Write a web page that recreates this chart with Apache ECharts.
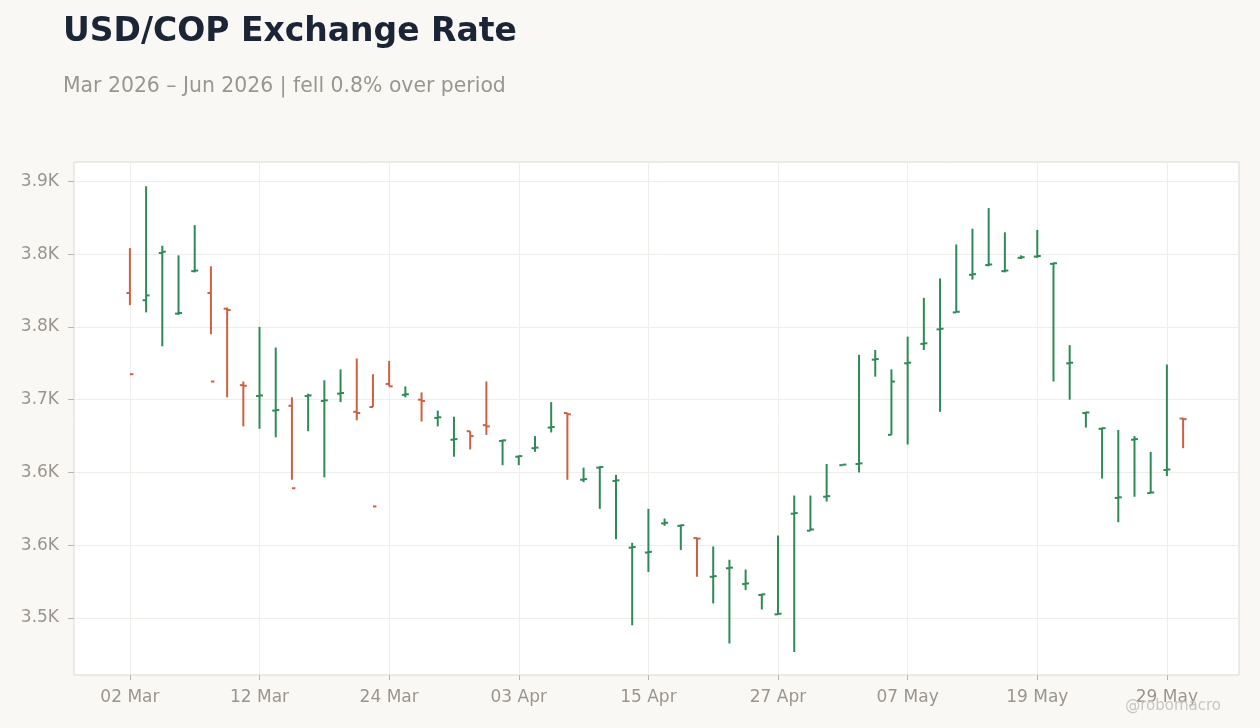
<!DOCTYPE html>
<html>
    <head>
        <title>USD/COP Exchange Rate</title>
        <meta charset="UTF-8">
        <script src="https://cdn.jsdelivr.net/npm/echarts@6/dist/echarts.min.js"></script>
        <style>
            html, body { margin: 0; padding: 0; background: #f9f8f5; }
            #main { width: 1260px; height: 728px; }
        </style>
    </head>
    <body>
    <div id="main"></div>
    <script type="text/javascript">
        // trading days (weekdays), Mar 2026 - Jun 2026
        var dates = [
            '2026-03-02','2026-03-03','2026-03-04','2026-03-05','2026-03-06','2026-03-09','2026-03-10','2026-03-11',
            '2026-03-12','2026-03-13','2026-03-16','2026-03-17','2026-03-18','2026-03-19','2026-03-20','2026-03-23',
            '2026-03-24','2026-03-25','2026-03-26','2026-03-27','2026-03-30','2026-03-31','2026-04-01','2026-04-02',
            '2026-04-03','2026-04-06','2026-04-07','2026-04-08','2026-04-09','2026-04-10','2026-04-13','2026-04-14',
            '2026-04-15','2026-04-16','2026-04-17','2026-04-20','2026-04-21','2026-04-22','2026-04-23','2026-04-24',
            '2026-04-27','2026-04-28','2026-04-29','2026-04-30','2026-05-01','2026-05-04','2026-05-05','2026-05-06',
            '2026-05-07','2026-05-08','2026-05-11','2026-05-12','2026-05-13','2026-05-14','2026-05-15','2026-05-18',
            '2026-05-19','2026-05-20','2026-05-21','2026-05-22','2026-05-25','2026-05-26','2026-05-27','2026-05-28',
            '2026-05-29','2026-06-01'
        ];

        var opens = [
            3788, 3782, 3821, 3771, 3806, 3788, 3775, 3712, 3703, 3691, 3695, 3703, 3699, 3705, 3690, 3694,
            3713, 3704, 3700, 3685, 3667, 3674, 3679, 3666, 3653, 3660, 3677, 3689, 3634, 3644, 3633, 3578,
            3574, 3598, 3596, 3586, 3554, 3561, 3548, 3539, 3523, 3606, 3592, 3620, 3646, 3647, 3733, 3671,
            3730, 3746, 3758, 3772, 3803, 3811, 3806, 3817, 3818, 3812, 3730, 3689, 3676, 3619, 3667, 3623,
            3642, 3684.5
        ];
        var highs = [
            3825, 3876, 3827, 3819, 3844, 3810, 3776, 3715, 3760, 3743, 3702, 3705, 3716, 3725, 3734, 3721,
            3732, 3711, 3706, 3691, 3686, 3674, 3715, 3667, 3654, 3670, 3698, 3689, 3644, 3645, 3638, 3582,
            3610, 3602, 3597, 3586, 3579, 3568, 3560, 3540, 3588, 3621, 3621, 3647, 3646.5, 3737, 3741, 3725,
            3752, 3784, 3800, 3828, 3841, 3858, 3838, 3819, 3840, 3813, 3745, 3690, 3677, 3675, 3670, 3657,
            3729, 3685
        ];
        var lows = [
            3778, 3772, 3744, 3770, 3805, 3754, 3702, 3678, 3676, 3669, 3634, 3674, 3636, 3698, 3683, 3694,
            3711, 3702, 3682, 3678, 3653, 3659, 3671, 3646, 3646, 3657, 3673, 3634, 3632, 3610, 3585, 3514,
            3558, 3596, 3576, 3554, 3532, 3499, 3543, 3527, 3523, 3492, 3592, 3616, 3646, 3640, 3719, 3671,
            3663, 3741, 3690, 3772, 3799, 3810, 3805, 3816, 3817, 3715, 3700, 3677, 3635, 3599, 3620, 3623,
            3637, 3660
        ];
        var closes = [
            3721, 3786, 3822, 3771.5, 3806.5, 3715, 3774, 3711.5, 3703.5, 3691.5, 3627, 3703.5, 3699.5, 3705.5, 3689, 3612,
            3711, 3704.5, 3699, 3685.5, 3667.5, 3670, 3678, 3666.5, 3653.5, 3660.5, 3677.5, 3688, 3634.5, 3644.5, 3633.5, 3578.5,
            3574.5, 3598.5, 3596.5, 3585.5, 3554.5, 3561.5, 3548.5, 3539.5, 3523.5, 3606.5, 3593, 3620.5, 3646.5, 3647.5, 3733.5, 3715,
            3730.5, 3746.5, 3758.5, 3772.5, 3803.5, 3811.5, 3806.5, 3817.5, 3818.5, 3812.5, 3730.5, 3689.5, 3676.5, 3619.5, 3667.5, 3623.5,
            3642.5, 3684
        ];

        // axis ticks
        var xTickIndex = [0, 8, 16, 24, 32, 40, 48, 56, 64];
        var yTicks = [3520, 3580, 3640, 3700, 3760, 3820, 3880];

        var upColor = '#2e8b57';
        var downColor = '#cc6143';
        var months = ['Jan','Feb','Mar','Apr','May','Jun','Jul','Aug','Sep','Oct','Nov','Dec'];

        function dayLabel(iso) {
            var p = iso.split('-');
            return p[2] + ' ' + months[parseInt(p[1], 10) - 1];
        }

        var seriesData = [];
        for (var i = 0; i < dates.length; i++) {
            seriesData.push([i, opens[i], highs[i], lows[i], closes[i]]);
        }

        // OHLC bar: high-low line, open tick left, close tick right
        function renderOhlc(params, api) {
            var idx = api.value(0);
            var o = api.value(1), c = api.value(4);
            var pO = api.coord([idx, o]);
            var pH = api.coord([idx, api.value(2)]);
            var pL = api.coord([idx, api.value(3)]);
            var pC = api.coord([idx, c]);
            var style = { stroke: c >= o ? upColor : downColor, lineWidth: 2 };
            return {
                type: 'group',
                children: [
                    { type: 'line', shape: { x1: pH[0], y1: pH[1], x2: pL[0], y2: pL[1] }, style: style },
                    { type: 'line', shape: { x1: pO[0] - 3.5, y1: pO[1], x2: pO[0], y2: pO[1] }, style: style },
                    { type: 'line', shape: { x1: pC[0], y1: pC[1], x2: pC[0] + 3.5, y2: pC[1] }, style: style }
                ]
            };
        }

        var myChart = echarts.init(document.getElementById('main'));

        var option = {
            backgroundColor: '#f9f8f5',
            animation: false,
            textStyle: { fontFamily: 'DejaVu Sans' },
            title: [
                {
                    text: 'USD/COP Exchange Rate',
                    left: 58,
                    top: 11,
                    textStyle: { fontFamily: 'DejaVu Sans', fontSize: 33, fontWeight: 'bold', color: '#1b2535' }
                },
                {
                    text: 'Mar 2026 \u2013 Jun 2026 | fell 0.8% over period',
                    left: 58,
                    top: 72,
                    textStyle: { fontFamily: 'DejaVu Sans', fontSize: 20.4, fontWeight: 'normal', color: '#9a9792' }
                },
                {
                    text: '@robomacro',
                    right: 34,
                    top: 694,
                    textStyle: { fontFamily: 'DejaVu Sans', fontSize: 15, fontWeight: 'normal', color: '#c9c6c1' }
                }
            ],
            grid: {
                left: 74,
                right: 21,
                top: 162,
                bottom: 53,
                show: true,
                backgroundColor: '#ffffff',
                borderColor: '#dcd8d1',
                borderWidth: 1
            },
            xAxis: {
                type: 'value',
                min: -3.45,
                max: 68.45,
                axisLine: { show: false, onZero: false },
                axisTick: { show: true, length: 5, customValues: xTickIndex, lineStyle: { color: '#b9b4ad' } },
                axisLabel: {
                    customValues: xTickIndex,
                    margin: 14,
                    fontSize: 17,
                    color: '#9a9590',
                    formatter: function (v) { return dayLabel(dates[Math.round(v)]); }
                },
                splitLine: { show: true, lineStyle: { color: '#f0eeeb', width: 1 } }
            },
            yAxis: {
                type: 'value',
                min: 3473,
                max: 3896,
                axisLine: { show: false, onZero: false },
                axisTick: { show: true, length: 6, customValues: yTicks, lineStyle: { color: '#b9b4ad' } },
                axisLabel: {
                    customValues: yTicks,
                    margin: 15,
                    fontSize: 17,
                    color: '#9a9590',
                    formatter: function (v) { return (v / 1000).toFixed(1) + 'K'; }
                },
                splitLine: { show: true, lineStyle: { color: '#f0eeeb', width: 1 } }
            },
            series: [{
                name: 'USD/COP',
                type: 'custom',
                renderItem: renderOhlc,
                encode: { x: 0, y: [1, 2, 3, 4] },
                data: seriesData
            }]
        };

        myChart.setOption(option);
    </script>
    </body>
</html>
